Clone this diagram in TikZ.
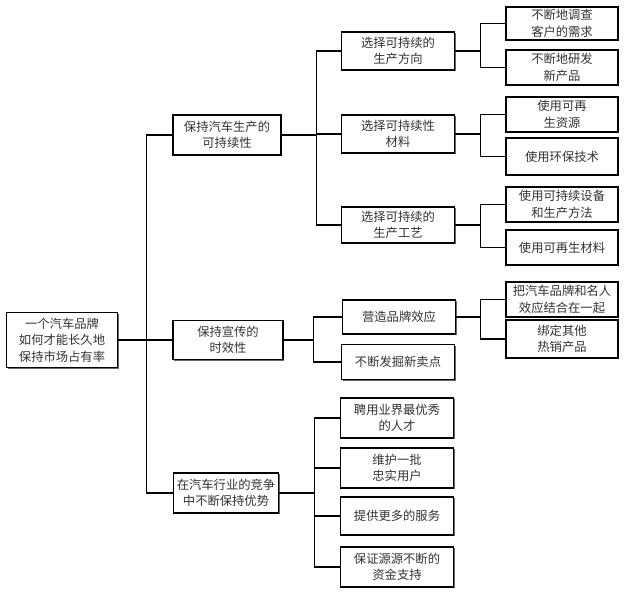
\documentclass[tikz,border=0pt]{standalone}
\usepackage{fontspec}
\newfontfamily\cjk{Noto Sans CJK SC}
\usetikzlibrary{shadows}
\begin{document}
\begin{tikzpicture}[x=1pt,y=-1pt,
  box/.style={draw=black, line width=1.4pt, fill=white, align=center, inner sep=1pt,
    font=\cjk\fontsize{12.3}{16.5}\selectfont, text=black!80,
    drop shadow={shadow xshift=1.2pt, shadow yshift=-1.2pt, fill=black!60, opacity=1}},
  conn/.style={line width=1.3pt, draw=black}]
\useasboundingbox (0,0) rectangle (628,594);
% root
\node[box, minimum width=111pt, minimum height=55pt] (root) at (62,340) {一个汽车品牌\\如何才能长久地\\保持市场占有率};
% level 1
\node[box, minimum width=108pt, minimum height=40pt] (a) at (227,135) {保持汽车生产的\\可持续性};
\node[box, minimum width=110pt, minimum height=39pt] (b) at (228,340) {保持宣传的\\时效性};
\node[box, minimum width=105pt, minimum height=40pt] (c) at (226,493) {在汽车行业的竞争\\中不断保持优势};
% level 2
\tikzset{l2/.style={box, minimum width=113pt}}
\node[l2, minimum height=38pt] (a1) at (398,51) {选择可持续的\\生产方向};
\node[l2, minimum height=38pt] (a2) at (398,134) {选择可持续性\\材料};
\node[l2, minimum height=36pt] (a3) at (398,225) {选择可持续的\\生产工艺};
\node[l2, minimum height=34pt] (b1) at (399,317) {营造品牌效应};
\node[l2, minimum height=35pt] (b2) at (398,362) {不断发掘新卖点};
\node[l2, minimum height=40pt] (c1) at (397,418) {聘用业界最优秀\\的人才};
\node[l2, minimum height=40pt] (c2) at (397,468) {维护一批\\忠实用户};
\node[l2, minimum height=38pt] (c3) at (397,516) {提供更多的服务};
\node[l2, minimum height=40pt] (c4) at (397,567) {保证源源不断的\\资金支持};
% level 3
\tikzset{l3/.style={box, minimum width=112pt}}
\node[l3, minimum height=33pt] (a11) at (562,23.5) {不断地调查\\客户的需求};
\node[l3, minimum height=35pt] (a12) at (562,67.5) {不断地研发\\新产品};
\node[l3, minimum height=35pt] (a21) at (562,114.5) {使用可再\\生资源};
\node[l3, minimum height=37pt] (a22) at (562,156.5) {使用环保技术};
\node[l3, minimum height=35pt] (a31) at (562,204.5) {使用可持续设备\\和生产方法};
\node[l3, minimum height=35pt] (a32) at (562,247.5) {使用可再生材料};
\node[l3, minimum height=35pt] (b11) at (562,299.5) {把汽车品牌和名人\\效应结合在一起};
\node[l3, minimum height=38pt] (b12) at (562,339) {绑定其他\\热销产品};
% connectors
\foreach \ch in {a,b,c} \draw[conn] (root.east) -- ++(28,0) |- (\ch.west);
\foreach \ch in {a1,a2,a3} \draw[conn] (a.east) -- ++(35,0) |- (\ch.west);
\foreach \ch in {b1,b2} \draw[conn] (b.east) -- ++(30,0) |- (\ch.west);
\foreach \ch in {c1,c2,c3,c4} \draw[conn] (c.east) -- ++(35,0) |- (\ch.west);
\draw[conn] (a1.east) -- ++(25,0) |- (a11.west);
\draw[conn] (a1.east) -- ++(25,0) |- (a12.west);
\draw[conn] (a2.east) -- ++(25,0) |- (a21.west);
\draw[conn] (a2.east) -- ++(25,0) |- (a22.west);
\draw[conn] (a3.east) -- ++(25,0) |- (a31.west);
\draw[conn] (a3.east) -- ++(25,0) |- (a32.west);
\draw[conn] (b1.east) -- ++(24,0) |- (b11.west);
\draw[conn] (b1.east) -- ++(24,0) |- (b12.west);
\end{tikzpicture}
\end{document}
